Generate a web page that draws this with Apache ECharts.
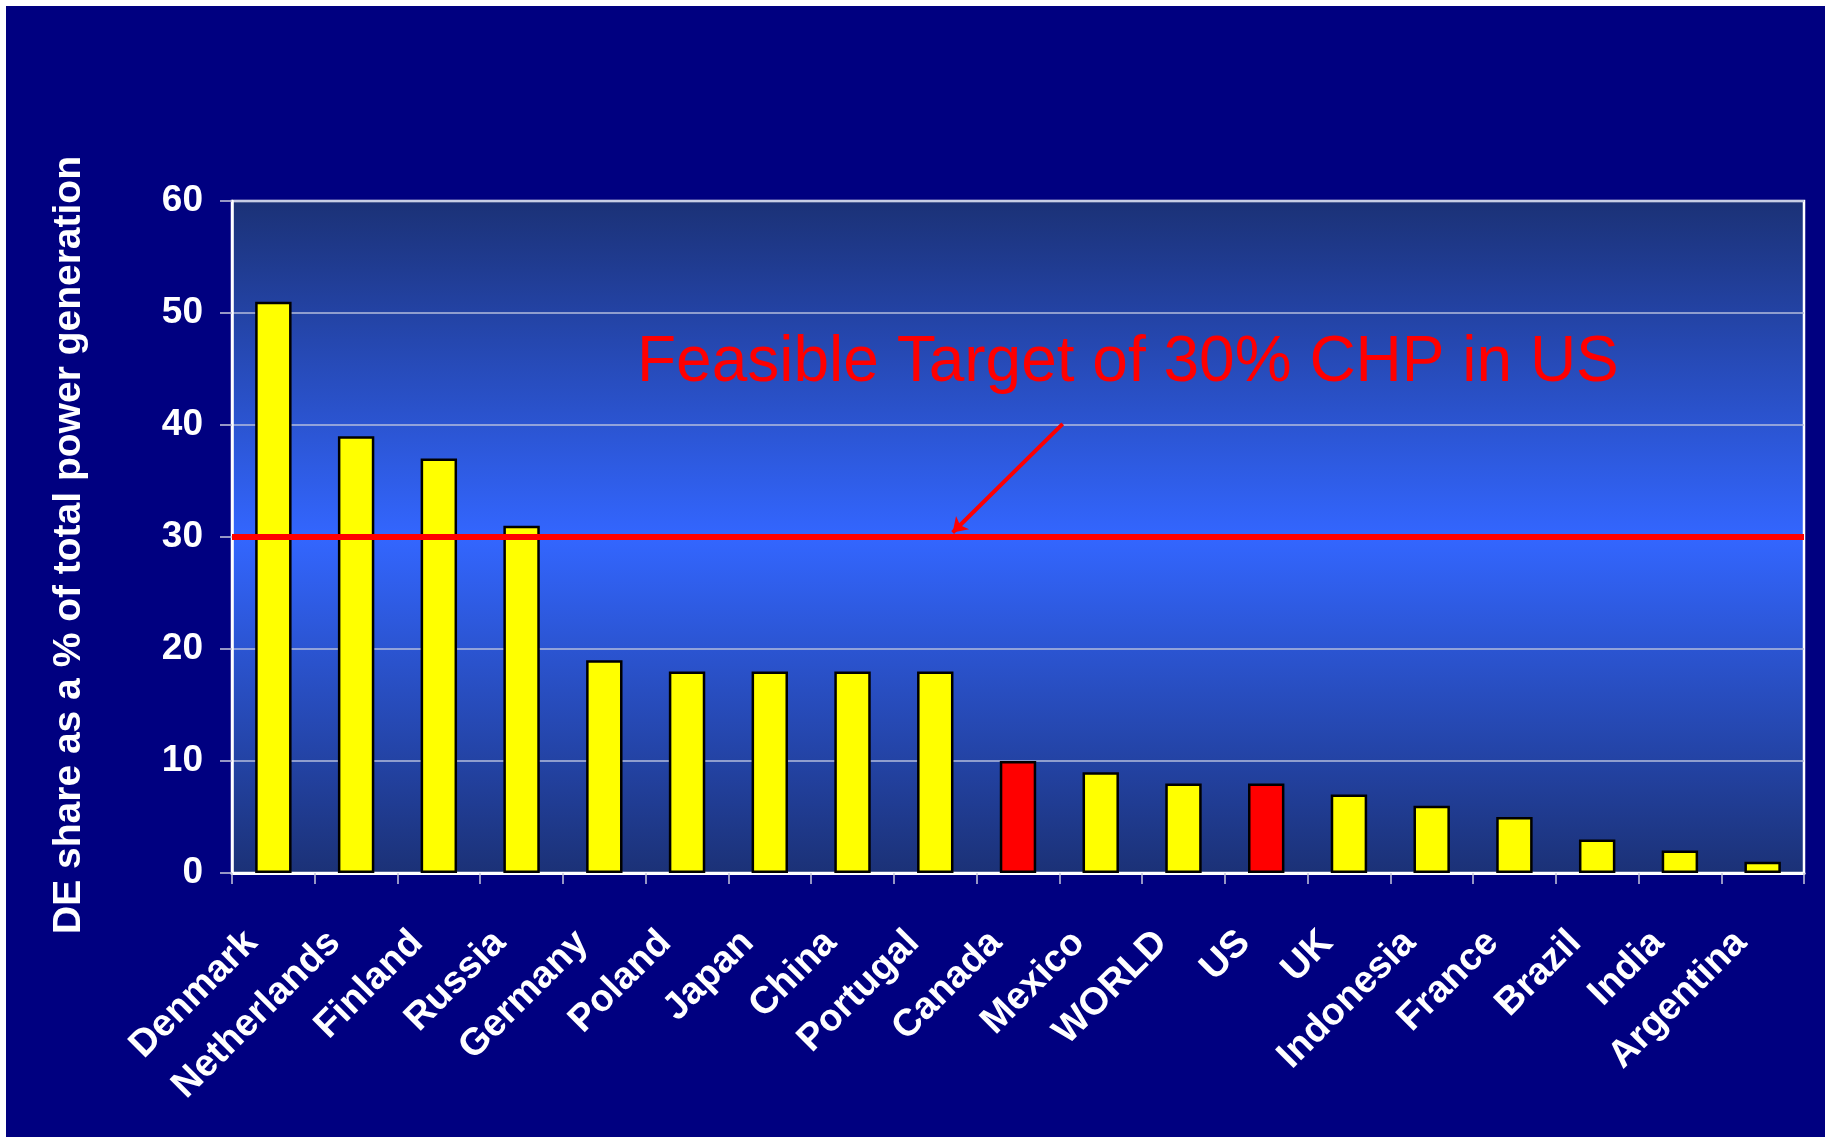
<!DOCTYPE html>
<html><head><meta charset="utf-8">
<script src="https://cdn.jsdelivr.net/npm/echarts@6/dist/echarts.min.js"></script>
<style>html,body{margin:0;padding:0;background:#000080;}#c{width:1825px;height:1137px;}</style>
</head><body><div id="c"></div>
<script>
const categories = ['Denmark','Netherlands','Finland','Russia','Germany','Poland','Japan','China','Portugal','Canada','Mexico','WORLD','US','UK','Indonesia','France','Brazil','India','Argentina'];
const shares = [51,39,37,31,19,18,18,18,18,10,9,8,8,7,6,5,3,2,1];
const highlighted = ['Canada','US'];
const yMin = 0, yMax = 60, yStep = 10;
const targetValue = 30;
const targetLabel = 'Feasible Target of 30% CHP in US';
const yAxisTitle = 'DE share as a % of total power generation';

const FONT = '"Liberation Sans", Arial, Helvetica, sans-serif';
const chart = echarts.init(document.getElementById('c'), null, {renderer: 'canvas'});

const barData = categories.map((c, i) => ({
  value: shares[i],
  itemStyle: { color: highlighted.includes(c) ? '#ff0000' : '#ffff00' }
}));

chart.setOption({
  animation: false,
  backgroundColor: '#000080',
  grid: {
    left: 232, right: 21, top: 201, bottom: 264,
    show: true,
    borderColor: '#ffffff', borderWidth: 2.5,
    backgroundColor: new echarts.graphic.LinearGradient(0, 0, 0, 1, [
      {offset: 0, color: '#1b3176'},
      {offset: 0.5, color: '#3366ff'},
      {offset: 1, color: '#1b3176'}
    ])
  },
  xAxis: [{
    type: 'category',
    data: categories,
    axisLine: {show: true, lineStyle: {color: '#ffffff', width: 3}},
    axisTick: {show: true, length: 11, alignWithLabel: false, lineStyle: {color: '#c8c8dc', width: 1.5}},
    axisLabel: {
      interval: 0, rotate: 45, color: '#ffffff',
      fontFamily: FONT, fontWeight: 'bold', fontSize: 38,
      margin: 42, padding: [0, 31, 0, 0]
    },
    splitLine: {show: false}
  }, {
    type: 'value', min: 0, max: categories.length, show: false
  }],
  yAxis: {
    type: 'value', min: yMin, max: yMax, interval: yStep,
    name: yAxisTitle, nameLocation: 'middle', nameGap: 143,
    nameTextStyle: {color: '#ffffff', fontFamily: FONT, fontWeight: 'bold', fontSize: 39, padding: [0, 16, 0, 0]},
    axisLine: {show: true, lineStyle: {color: '#ffffff', width: 2.5}},
    axisTick: {show: true, length: 12, lineStyle: {color: '#c8c8dc', width: 1.5}},
    axisLabel: {color: '#ffffff', fontFamily: FONT, fontWeight: 'bold', fontSize: 37, margin: 29},
    splitLine: {show: true, lineStyle: {color: '#b4bcdc', width: 1.5}}
  },
  graphic: [
    {type: 'rect', left: 0, top: 0, shape: {width: 1825, height: 6}, style: {fill: '#ffffff'}, z: 0},
    {type: 'rect', left: 0, top: 0, shape: {width: 6, height: 1137}, style: {fill: '#ffffff'}, z: 0},
    {type: 'text', left: 637, top: 331, z: 100,
      style: {text: targetLabel, fill: '#ff0000', font: 'normal 64px ' + FONT}}
  ],
  series: [{
    type: 'bar',
    data: barData,
    barWidth: '44%',
    itemStyle: {borderColor: '#000000', borderWidth: 2.5},
    markLine: {
      silent: true, symbol: 'none',
      label: {show: false},
      lineStyle: {color: '#ff0000', width: 6, type: 'solid'},
      data: [{yAxis: targetValue}]
    }
  }, {
    type: 'line',
    xAxisIndex: 1,
    data: [],
    markLine: {
      silent: true,
      symbol: ['none', 'arrow'], symbolSize: 14,
      label: {show: false},
      lineStyle: {color: '#ff0000', width: 4, type: 'solid'},
      data: [[{coord: [10.04, 40.1]}, {coord: [8.71, 30.4]}]]
    }
  }]
});
</script></body></html>
